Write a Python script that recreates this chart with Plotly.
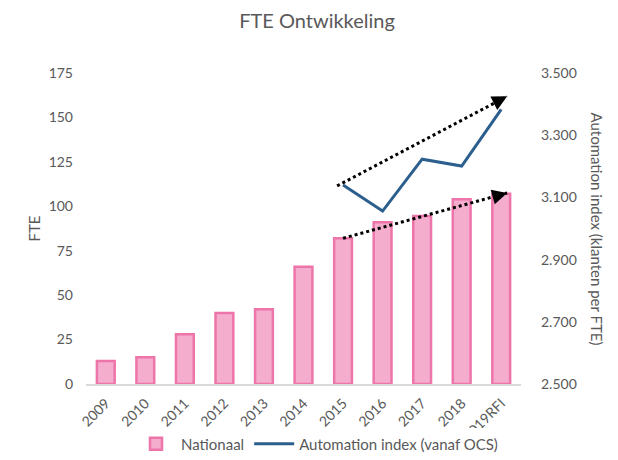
import plotly.graph_objects as go

years = ["2009", "2010", "2011", "2012", "2013", "2014", "2015", "2016", "2017", "2018", "2019RFI"]
fte = [13, 15, 28, 40, 42, 66, 82, 91, 94.5, 104, 107]
auto_years = ["2015", "2016", "2017", "2018", "2019RFI"]
auto_index = [3.140, 3.056, 3.223, 3.201, 3.383]

left_ticks = [0, 25, 50, 75, 100, 125, 150, 175]
right_ticks = [2.5, 2.7, 2.9, 3.1, 3.3, 3.5]
right_labels = ["2.500", "2.700", "2.900", "3.100", "3.300", "3.500"]

# trend arrows (category index, value)
trend_auto = dict(x0=5.85, y0=3.137, x1=10.15, y1=3.425)
trend_fte = dict(x0=6.0, y0=82, x1=10.15, y1=107.5)

FONT = "Lato"
GRAY = "#595959"

fig = go.Figure()
fig.add_trace(go.Bar(
    x=years, y=fte, name="Nationaal",
    marker=dict(color="#F4ADCC", line=dict(color="#EE75AA", width=2.5)),
    width=0.45,
))
fig.add_trace(go.Scatter(
    x=auto_years, y=auto_index, name="Automation index (vanaf OCS)",
    mode="lines", line=dict(color="#2C5F8E", width=3), yaxis="y2",
))

for t, yref, ux, uy in [(trend_auto, "y2", 0.888, -0.46), (trend_fte, "y", 0.963, -0.27)]:
    fig.add_shape(type="line", xref="x", yref=yref, x0=t["x0"], y0=t["y0"], x1=t["x1"], y1=t["y1"],
                  line=dict(color="black", width=3, dash="dot"))
    fig.add_annotation(x=t["x1"], y=t["y1"], xref="x", yref=yref, ax=-ux * 6, ay=-uy * 6,
                       axref="pixel", ayref="pixel", showarrow=True, arrowhead=2, arrowsize=1.5,
                       arrowwidth=2, arrowcolor="black", text="")

fig.add_annotation(x=1.0, y=0.5, xref="paper", yref="paper", xanchor="center", yanchor="middle",
                   xshift=76, text="Automation index (klanten per FTE)", textangle=90,
                   showarrow=False, font=dict(family=FONT, size=15, color=GRAY))

fig.update_layout(
    width=618, height=460,
    paper_bgcolor="white", plot_bgcolor="white",
    margin=dict(l=78, r=104.5, t=65, b=84, autoexpand=False),
    font=dict(family=FONT, color=GRAY, size=13),
    title=dict(text="FTE Ontwikkeling", x=0.5, xanchor="center", y=0.972, yanchor="middle",
               font=dict(family=FONT, size=20, color=GRAY)),
    xaxis=dict(tickangle=-45, showline=True, linecolor="#D9D9D9", linewidth=1.5, automargin=False,
               showgrid=False, ticks="", tickfont=dict(size=14, color=GRAY), ticklabelstandoff=4),
    yaxis=dict(range=[0, 175], tickvals=left_ticks, showgrid=False, zeroline=False, automargin=False,
               title=dict(text="FTE", font=dict(size=15, color=GRAY), standoff=4),
               tickfont=dict(size=14, color=GRAY), ticks="", ticklabelstandoff=12),
    yaxis2=dict(range=[2.5, 3.5], tickvals=right_ticks, ticktext=right_labels, automargin=False,
                overlaying="y", side="right", showgrid=False, zeroline=False,
                tickfont=dict(size=14, color=GRAY), ticks="", ticklabelstandoff=19),
    legend=dict(orientation="h", x=0.5, xanchor="center", xref="container",
                y=0.052, yanchor="middle", yref="container",
                font=dict(size=15, color=GRAY), itemwidth=40),
    showlegend=True,
)

fig.write_html("out.html")
